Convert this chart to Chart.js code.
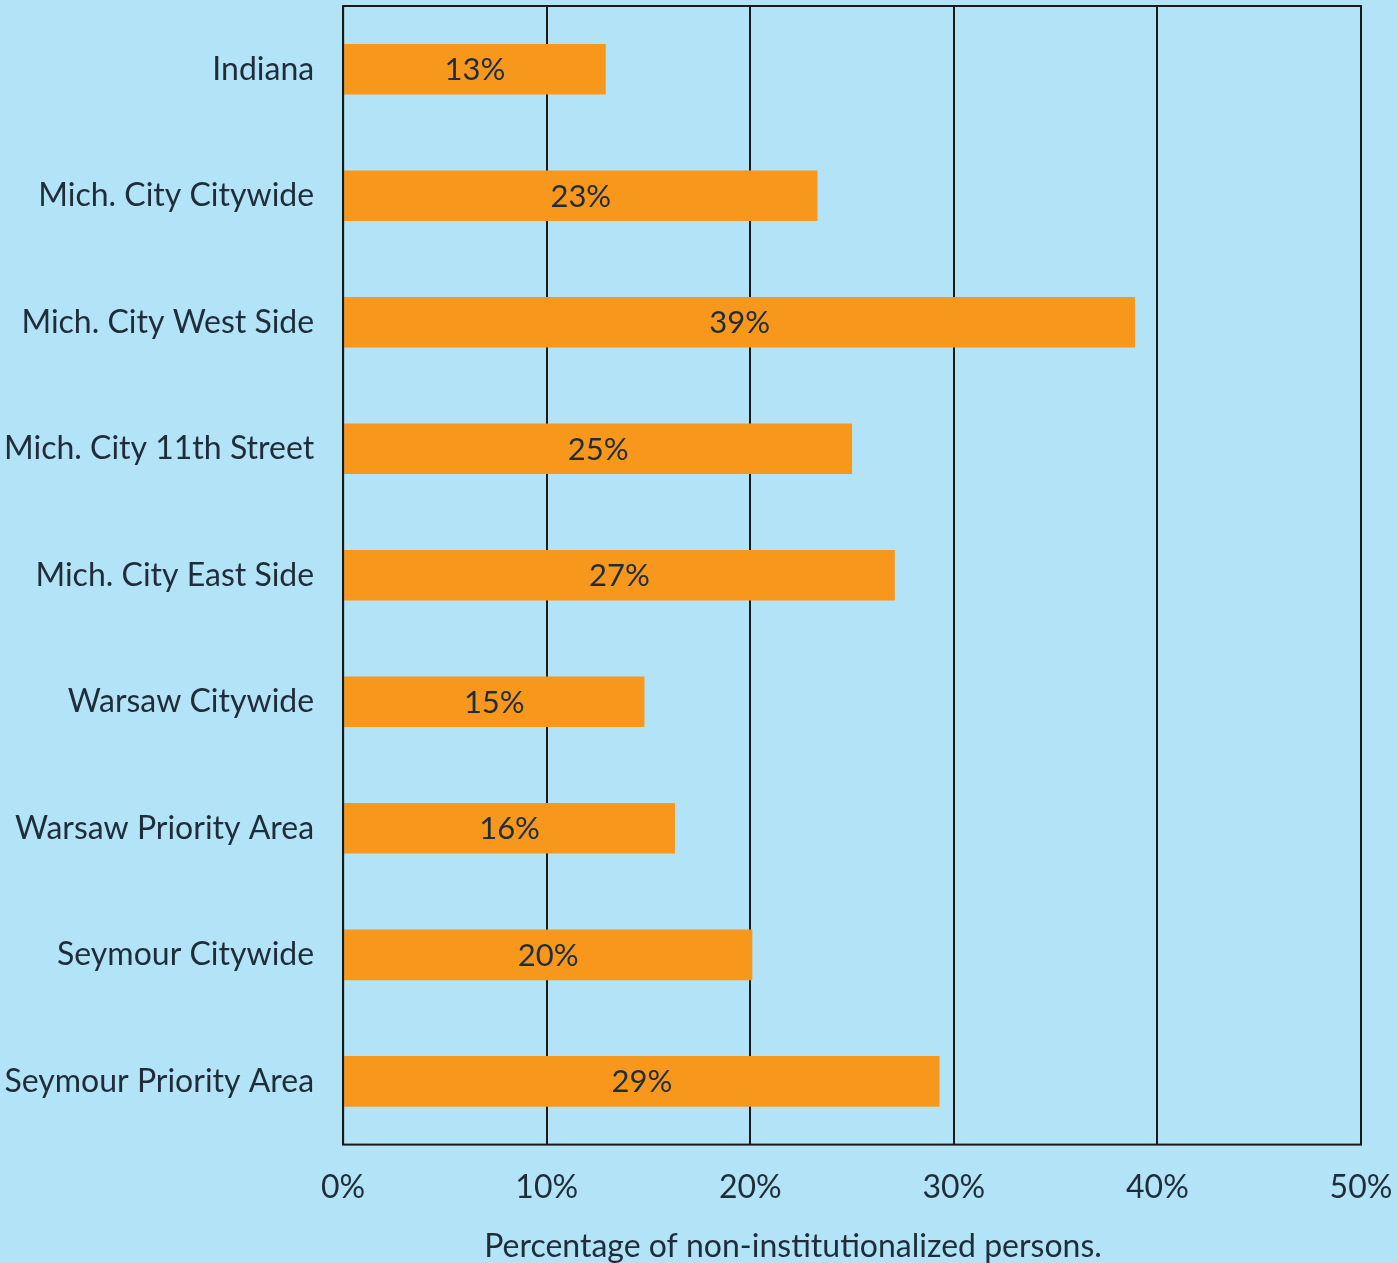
<!DOCTYPE html>
<html lang="en">
  <head>
    <meta charset="utf-8" />
    <title>Non-institutionalized persons</title>
    <style>
      * {
        margin: 0;
        padding: 0;
      }
      body {
        background: #b3e3f7;
      }
      .chartBox {
        width: 1398px;
        height: 1263px;
      }
    </style>
  </head>
  <body>
    <div class="chartBox">
      <canvas id="myChart"></canvas>
    </div>

    <script src="https://cdn.jsdelivr.net/npm/chart.js"></script>

    <script>
      const categories = [
        "Indiana",
        "Mich. City Citywide",
        "Mich. City West Side",
        "Mich. City 11th Street",
        "Mich. City East Side",
        "Warsaw Citywide",
        "Warsaw Priority Area",
        "Seymour Citywide",
        "Seymour Priority Area",
      ];
      const values = [12.9, 23.3, 38.9, 25.0, 27.1, 14.8, 16.3, 20.1, 29.3];
      const valueLabels = ["13%", "23%", "39%", "25%", "27%", "15%", "16%", "20%", "29%"];
      const axisTitle = "Percentage of non-institutionalized persons.";

      const TEXT = "#1f2d3a";
      const FONT = "Lato";

      // centered value labels + outer frame + axis title
      const extras = {
        id: "extras",
        afterDatasetsDraw(chart) {
          const { ctx, chartArea: { top, bottom, left, right } } = chart;
          const meta = chart.getDatasetMeta(0);
          ctx.save();
          ctx.font = "31px " + FONT;
          ctx.fillStyle = TEXT;
          ctx.textAlign = "center";
          ctx.textBaseline = "middle";
          meta.data.forEach((bar, i) => {
            ctx.fillText(valueLabels[i], (bar.base + bar.x) / 2, bar.y + 1);
          });

          ctx.strokeStyle = "#1a1a1a";
          ctx.lineWidth = 2;
          ctx.strokeRect(left, top, right - left, bottom - top);

          ctx.font = "32px " + FONT;
          ctx.textBaseline = "alphabetic";
          ctx.fillText(axisTitle, 793, 1257);
          ctx.restore();
        },
      };

      const config = {
        type: "bar",
        data: {
          labels: categories,
          datasets: [
            {
              data: values,
              backgroundColor: "#f7981d",
              barPercentage: 0.4,
              categoryPercentage: 1,
            },
          ],
        },
        options: {
          indexAxis: "y",
          responsive: true,
          maintainAspectRatio: false,
          animation: false,
          layout: {
            padding: { top: 6, right: 37, bottom: 56, left: 4 },
          },
          plugins: {
            legend: { display: false },
            tooltip: { enabled: false },
          },
          scales: {
            x: {
              min: 0,
              max: 50,
              ticks: {
                stepSize: 10,
                color: TEXT,
                font: { family: FONT, size: 32 },
                padding: 0,
                callback: (v) => v + "%",
              },
              grid: {
                color: "#1a1a1a",
                lineWidth: 2,
                drawTicks: true,
                tickLength: 24,
                tickColor: "transparent",
              },
              border: { display: false },
            },
            y: {
              ticks: {
                color: TEXT,
                font: { family: FONT, size: 32, lineHeight: 0.35 },
                padding: 0,
              },
              grid: {
                display: false,
                drawTicks: true,
                tickLength: 29,
              },
              border: { display: false },
            },
          },
        },
        plugins: [extras],
      };

      const myChart = new Chart(document.getElementById("myChart"), config);
    </script>
  </body>
</html>
